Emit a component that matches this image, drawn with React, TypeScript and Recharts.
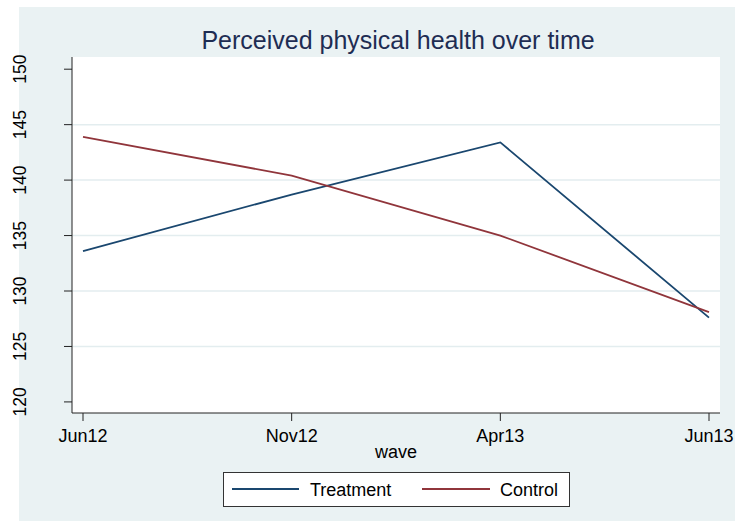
import { LineChart, Line, CartesianGrid, XAxis, YAxis } from "recharts";

const waves = ["Jun12", "Nov12", "Apr13", "Jun13"];
const treatment = [133.6, 138.7, 143.4, 127.6];
const control = [143.9, 140.4, 135.0, 128.1];
const yTicks = [120, 125, 130, 135, 140, 145, 150];
const gridValues = [125, 130, 135, 140, 145];

const data = waves.map((w, i) => ({
  wave: w,
  treatment: treatment[i],
  control: control[i],
}));

const W = 735;
const H = 526;
const PLOT_BOTTOM = 413;
const FONT = "Arial, 'Liberation Sans', sans-serif";
const NAVY = "#1a476f";
const MAROON = "#90353b";
const BG = "#eaf2f3";

function YTick({ y, payload }: { y?: number; payload?: { value: number } }) {
  return (
    <text
      x={26}
      y={y}
      transform={`rotate(-90, 26, ${y})`}
      textAnchor="middle"
      fontSize={17.5}
      fontFamily={FONT}
      fill="#000"
    >
      {payload?.value}
    </text>
  );
}

function XTick({ x, payload }: { x?: number; payload?: { value: string } }) {
  return (
    <text
      x={x}
      y={PLOT_BOTTOM + 29}
      textAnchor="middle"
      fontSize={18}
      fontFamily={FONT}
      fill="#000"
    >
      {payload?.value}
    </text>
  );
}

export default function App() {
  return (
    <div
      style={{
        position: "absolute",
        left: 0,
        top: 0,
        width: W,
        height: H,
        background: "#fff",
        overflow: "hidden",
      }}
    >
      {/* Stata-style graph region */}
      <div
        style={{
          position: "absolute",
          left: 19,
          top: 7,
          width: W - 19,
          height: 514,
          background: BG,
        }}
      />
      <div style={{ position: "absolute", left: 0, top: 0 }}>
        <LineChart
          width={W}
          height={H}
          data={data}
          margin={{ top: 57, right: 15, left: 0, bottom: H - PLOT_BOTTOM - 50 }}
        >
          <CartesianGrid
            vertical={false}
            horizontalValues={gridValues}
            stroke="#e3edef"
            strokeWidth={1.5}
            fill="#fff"
          />
          <XAxis
            dataKey="wave"
            height={50}
            padding={{ left: 11, right: 11 }}
            tick={<XTick />}
            tickSize={8}
            axisLine={{ stroke: "#222" }}
            tickLine={{ stroke: "#222" }}
            interval={0}
          />
          <YAxis
            width={72}
            domain={[119, 151.1]}
            ticks={yTicks}
            tick={<YTick />}
            tickSize={8}
            axisLine={{ stroke: "#222" }}
            tickLine={{ stroke: "#222" }}
            allowDataOverflow
          />
          <Line
            type="linear"
            dataKey="treatment"
            stroke={NAVY}
            strokeWidth={1.8}
            dot={false}
            isAnimationActive={false}
          />
          <Line
            type="linear"
            dataKey="control"
            stroke={MAROON}
            strokeWidth={1.8}
            dot={false}
            isAnimationActive={false}
          />
        </LineChart>
      </div>
      <svg
        width={W}
        height={H}
        style={{ position: "absolute", left: 0, top: 0, pointerEvents: "none" }}
      >
        <text
          x={398}
          y={49}
          textAnchor="middle"
          fontSize={25}
          fontFamily={FONT}
          fill="#1e2d53"
        >
          Perceived physical health over time
        </text>
        <text
          x={396}
          y={458}
          textAnchor="middle"
          fontSize={18}
          fontFamily={FONT}
          fill="#000"
        >
          wave
        </text>
        {/* legend */}
        <rect x={223.5} y={472.5} width={346} height={34} fill="#fff" stroke="#333" strokeWidth={1} />
        <line x1={232} x2={299} y1={489} y2={489} stroke={NAVY} strokeWidth={1.8} />
        <text x={310} y={495.5} fontSize={18} fontFamily={FONT} fill="#000">
          Treatment
        </text>
        <line x1={422} x2={490} y1={489} y2={489} stroke={MAROON} strokeWidth={1.8} />
        <text x={500} y={495.5} fontSize={18} fontFamily={FONT} fill="#000">
          Control
        </text>
      </svg>
    </div>
  );
}
